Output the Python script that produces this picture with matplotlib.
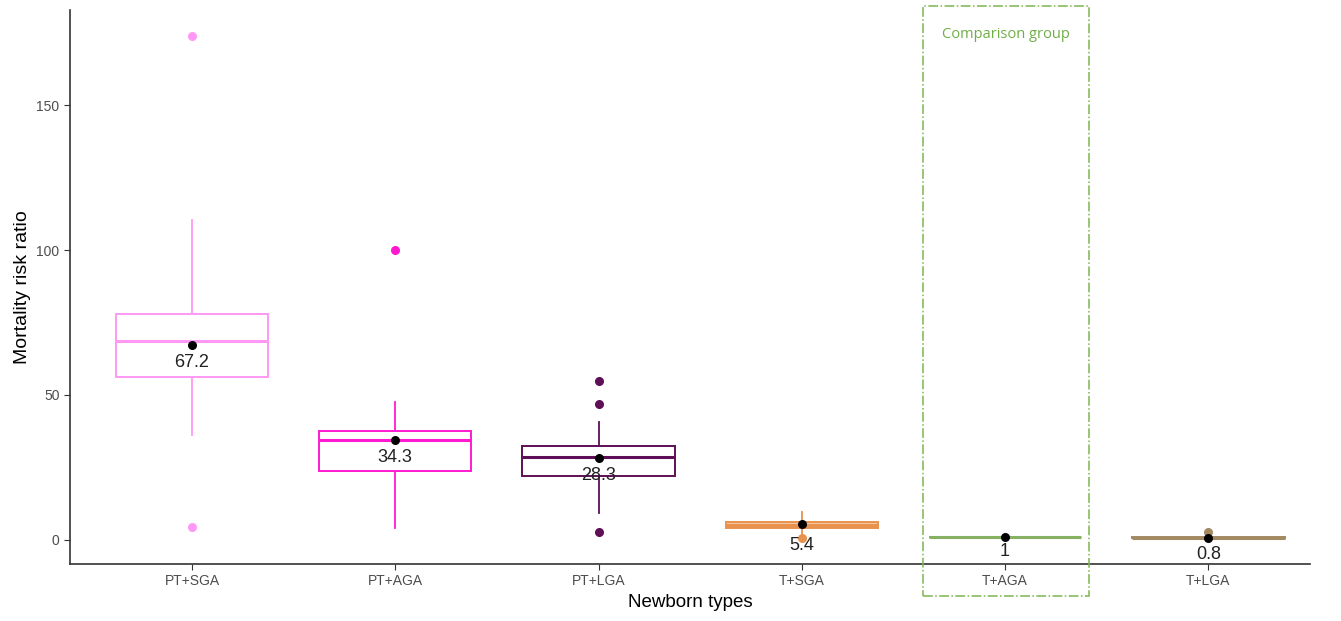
import numpy as np
import matplotlib.pyplot as plt
from matplotlib.patches import Rectangle

plt.rcParams['font.family'] = ['Liberation Sans', 'DejaVu Sans']

# Data
groups = ["PT+SGA", "PT+AGA", "PT+LGA", "T+SGA", "T+AGA", "T+LGA"]
q1 = [56.2, 23.8, 22.2, 4.0, 0.9, 0.6]
med = [68.6, 34.5, 28.5, 5.0, 1.0, 0.8]
q3 = [77.9, 37.6, 32.4, 6.1, 1.1, 0.9]
whislo = [36.2, 4.2, 9.2, 0.6, 1.0, 0.7]
whishi = [110.3, 47.7, 40.8, 9.6, 1.0, 0.9]
fliers = [[173.8, 4.5], [100.0], [54.8, 46.9, 2.8], [0.6], [], [2.9]]
means = [67.2, 34.3, 28.3, 5.4, 1.0, 0.8]
mean_labels = ["67.2", "34.3", "28.3", "5.4", "1", "0.8"]
colors = ["#FF99F5", "#FF1AD1", "#5E0F55", "#E8924E", "#86B062", "#A38A62"]

fig = plt.figure(figsize=(13.41, 6.21), dpi=100)
ax = fig.add_axes([0.0522, 0.0918, 0.9247, 0.8921])

stats = []
for i in range(len(groups)):
    stats.append(dict(q1=q1[i], med=med[i], q3=q3[i], whislo=whislo[i],
                      whishi=whishi[i], fliers=fliers[i], mean=means[i]))

pos = np.arange(1, len(groups) + 1)
for i, s in enumerate(stats):
    c = colors[i]
    face = "#F6C9A6" if groups[i] == "T+SGA" else "white"
    ax.bxp([s], positions=[pos[i]], widths=0.75, patch_artist=True,
           showmeans=False, showcaps=False,
           boxprops=dict(facecolor=face, edgecolor=c, linewidth=1.4),
           medianprops=dict(color=c, linewidth=2.2),
           whiskerprops=dict(color=c, linewidth=1.3),
           flierprops=dict(marker="o", markerfacecolor=c, markeredgecolor=c,
                           markersize=5.5))

# mean points and labels
ax.scatter(pos, means, color="black", s=30, zorder=5)
offs = [3, 3, 3, 4.5, 2, 3]
for i in range(len(groups)):
    ax.text(pos[i], means[i] - offs[i], mean_labels[i], ha="center", va="top",
            fontsize=13, color="#222222", zorder=6)

# comparison group frame
rect = Rectangle((4.596, -19.3), 0.818, 203.4, fill=False,
                 edgecolor="#7DB54F", linestyle="-.", linewidth=1.1,
                 clip_on=False, zorder=4)
ax.add_patch(rect)
ax.text(5.005, 174.5, "Comparison group", ha="center", va="center",
        fontsize=10.5, color="#70AD47", family=["Open Sans", "DejaVu Sans"])

ax.set_xlim(0.4, 6.5)
ax.set_ylim(-8.3, 182.8)
ax.set_xticks(pos)
ax.set_xticklabels(groups)
ax.set_yticks([0, 50, 100, 150])
ax.tick_params(colors="#333333", labelcolor="#4D4D4D", labelsize=10,
               length=4, width=0.8)
for sp in ["top", "right"]:
    ax.spines[sp].set_visible(False)
for sp in ["left", "bottom"]:
    ax.spines[sp].set_color("#333333")
    ax.spines[sp].set_linewidth(1.2)

ax.set_xlabel("Newborn types", fontsize=13.5, labelpad=4)
ax.set_ylabel("Mortality risk ratio", fontsize=14, labelpad=4)

fig.savefig("out.png", dpi=100)
